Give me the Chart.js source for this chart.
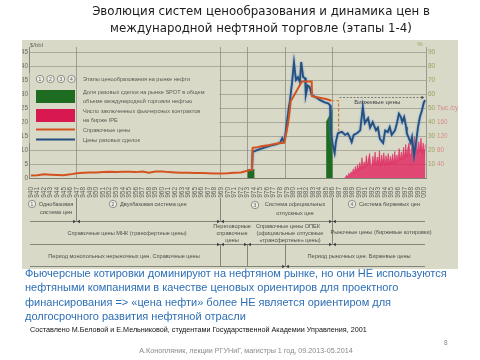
<!DOCTYPE html>
<html lang="ru">
<head>
<meta charset="utf-8">
<title>Эволюция систем ценообразования</title>
<script src="https://cdn.jsdelivr.net/npm/chart.js@4.4.1/dist/chart.umd.min.js"></script>
<style>
  html, body { margin: 0; padding: 0; background: #fff; }
  #page { position: relative; width: 480px; height: 360px; overflow: hidden; }
  #chart { position: absolute; left: 0; top: 0; }
  .t { position: absolute; white-space: nowrap; }
  #title { left: 21px; top: 3px; width: 480px; text-align: center; font: 11.8px/17px "DejaVu Sans", sans-serif; color: #1b1b1b; }
  .blue { left: 25px; font: 11px/14px "Liberation Sans", sans-serif; color: #2d6fb6; }
  #credit { left: 30px; top: 326px; font: 7.2px/8px "Liberation Sans", sans-serif; color: #111; }
  #pageno { left: 444px; top: 339px; font: 6.5px/8px "Liberation Sans", sans-serif; color: #888; }
  #footer { left: 0; width: 492px; top: 347px; text-align: center; font: 7.2px/8px "Liberation Sans", sans-serif; color: #8a8a8a; }
</style>
</head>
<body>
<div id="page">
  <canvas id="chart" width="480" height="360"></canvas>
  <div class="t" id="title">Эволюция систем ценообразования и динамика цен в<br>международной нефтяной торговле (этапы 1-4)</div>
  <div class="t blue" style="top:266px">Фьючерсные котировки доминируют на нефтяном рынке, но они НЕ используются</div>
  <div class="t blue" style="top:280px">нефтяными компаниями в качестве ценовых ориентиров для проектного</div>
  <div class="t blue" style="top:295px">финансирования =&gt; «цена нефти» более НЕ является ориентиром для</div>
  <div class="t blue" style="top:309px">долгосрочного развития  нефтяной отрасли</div>
  <div class="t" id="credit">Составлено М.Беловой и Е.Мельниковой, студентами Государственной Академии Управления, 2001</div>
  <div class="t" id="pageno">8</div>
  <div class="t" id="footer">А.Конопляник, лекции РГУНиГ, магистры 1 год, 09.2013-05.2014</div>
</div>
<script>
// Справочные цены, $/bbl
const refYears = [1940,1941,1942,1943,1944,1945,1946,1947,1948,1949,
  1950,1951,1952,1953,1954,1955,1956,1957,1958,1959,
  1960,1961,1962,1963,1964,1965,1966,1967,1968,1969,
  1970,1971,1972,1973,1973.7,1973.8,1974.5,1975.3,1976.2,1977.0,
  1977.8,1978.6,1978.8,1979.0,1979.2,1979.4,1979.6,1980.0,1980.6,1981.3,
  1981.6,1982.8,1982.85,1984.0,1985.0,1985.8];
const refPrices = [0.9,1.0,1.3,1.2,1.1,1.0,1.3,1.7,1.9,2.0,
  2.0,2.1,2.2,2.1,2.2,2.2,2.1,2.3,1.9,2.3,
  2.3,2.1,2.0,1.9,1.9,1.8,1.8,1.7,1.6,1.6,
  1.7,1.9,2.0,2.6,3.0,10.8,11.0,11.4,11.7,12.1,
  12.4,12.6,14.5,17.0,19.5,23.0,27.5,29.0,31.5,34.5,
  34.5,34.5,29.2,28.7,28.2,27.6];
// dashed continuation of the reference prices
const refTailYears = [1985.8, 1986.9, 1986.9];
const refTailPrices = [27.6, 27.6, 16.8];

// Цены разовых сделок, $/bbl
const spotYears = [1973.7,1973.8,1974.3,1975.0,1975.8,1976.5,1977.3,1978.0,1978.3,1978.5,
  1978.7,1979.0,1979.3,1979.5,1979.8,1980.1,1980.4,1980.7,1981.0,1981.2,
  1981.5,1981.8,1981.9,1982.2,1982.5,1982.8,1983.3,1984.1,1984.8,1985.3,
  1985.6,1985.7,1986.0,1986.3,1986.5,1986.8,1987.4,1987.9,1988.3,1988.6,
  1988.9,1989.2,1989.7,1990.2,1990.6,1990.9,1991.4,1991.7,1992.1,1992.6,
  1992.9,1993.2,1993.7,1994.0,1994.4,1994.7,1995.0,1995.5,1995.8,1996.1,
  1996.4,1996.6,1996.9,1997.2,1997.3,1997.6,1997.9,1998.1,1998.4,1998.7,
  1999.0,1999.3,1999.6,1999.9,2000.1];
const spotPrices = [2.6,9.3,9.8,10.4,11.0,11.6,12.0,12.6,14.2,13.2,
  14.0,19.6,25.0,27.8,34.0,41.4,35.0,36.0,34.3,41.4,
  36.0,35.7,29.6,33.0,32.5,29.6,29.0,27.8,27.0,26.7,
  26.0,17.0,12.0,8.9,13.0,16.0,16.5,15.4,16.0,14.6,
  12.8,15.4,16.0,17.0,25.4,19.6,21.4,18.0,20.0,17.0,
  18.0,14.0,12.5,17.0,16.4,18.2,15.4,17.0,19.6,23.0,
  21.8,20.0,21.8,18.2,16.0,14.3,12.5,14.6,7.8,12.5,
  18.0,21.8,24.0,27.0,27.8];

// Доля разовых сделок (SPOT), %
const shareYearsA = [1973.0, 1974.1];
const shareA = [6, 6];
const shareYearsB = [1985.0, 1986.0];
const shareB = [40, 49];

// Фьючерсные контракты IPE, тыс./сут, every two months from 1987.8
const futuresStart = 1987.8;
const futuresStep = 1 / 6;
const futures = [0,
  2,8,3,14,6,18,
  10,26,14,33,18,38,
  22,44,26,58,28,46,
  30,64,34,55,70,36,
  34,62,38,74,36,60,
  40,78,34,66,42,72,
  36,64,40,70,38,62,
  42,68,40,76,44,66,
  46,84,50,74,52,88,
  56,96,60,86,100,64,
  70,112,74,118,78,108,
  68,104,76,114,72,100,
  70,96];

// period boundaries, years
const bounds = [1946.9, 1968.8, 1972.9, 1978.7, 1985.9];

const BG = '#d9d9c8';
const INK = '#4d4d46';
const SMALL = '"Liberation Sans", sans-serif';
const SPOT_INDEX = 2;

const pts = (xs, ys) => xs.map((x, i) => ({ x: x, y: ys[i] }));
const futuresPts = futures.map((v, i) => ({ x: futuresStart + i * futuresStep, y: v }));

function tri(c, x, y, dir) {
  c.beginPath();
  c.moveTo(x, y - 1.7);
  c.lineTo(x + 2.6 * dir, y);
  c.lineTo(x, y + 1.7);
  c.closePath();
  c.fill();
}
function marker(c, x, y) {
  c.fillStyle = '#333';
  tri(c, x - 3.3, y, 1);
  tri(c, x + 3.3, y, -1);
}
function line(c, x1, y1, x2, y2) {
  c.beginPath(); c.moveTo(x1, y1); c.lineTo(x2, y2); c.stroke();
}
function badge(c, x, y, n) {
  c.beginPath();
  c.arc(x, y, 3.7, 0, Math.PI * 2);
  c.fillStyle = '#eeeee6'; c.fill();
  c.strokeStyle = '#6a6a63'; c.lineWidth = 0.7; c.stroke();
  c.fillStyle = '#555';
  c.font = '5px ' + SMALL;
  c.textAlign = 'center';
  c.fillText(n, x, y + 0.4);
}
function text(c, s, x, y, align) {
  c.textAlign = align || 'center';
  c.fillText(s, x, y);
}

const decor = {
  id: 'decor',
  beforeDraw(chart) {
    const c = chart.ctx;
    c.save();
    c.fillStyle = '#fff';
    c.fillRect(0, 0, chart.width, chart.height);
    c.fillStyle = BG;
    c.fillRect(22, 40, 436, 229);
    c.restore();
  },
  beforeDatasetsDraw(chart) {
    const c = chart.ctx;
    const x = chart.scales.x, y = chart.scales.y, a = chart.chartArea;
    c.save();
    // legend panel covers the grid
    const top = y.getPixelForValue(37.6), bot = y.getPixelForValue(12.4);
    c.fillStyle = BG;
    c.fillRect(a.left + 0.5, top, x.getPixelForValue(bounds[1]) - a.left - 1, bot - top);
    // period lines
    c.strokeStyle = '#8e8e86';
    c.lineWidth = 0.8;
    bounds.forEach(b => {
      const px = Math.round(x.getPixelForValue(b)) + 0.5;
      line(c, px, a.top, px, a.bottom);
    });
    c.restore();
  },
  // light blue halo round the spot price line, as in the scan
  beforeDatasetDraw(chart, args) {
    if (args.index !== SPOT_INDEX) return;
    chart.ctx.save();
    chart.ctx.shadowColor = 'rgba(80, 145, 215, 0.9)';
    chart.ctx.shadowBlur = 2;
  },
  afterDatasetDraw(chart, args) {
    if (args.index === SPOT_INDEX) chart.ctx.restore();
  },
  afterDraw(chart) {
    const c = chart.ctx;
    const x = chart.scales.x, y = chart.scales.y;
    const X = b => Math.round(x.getPixelForValue(b)) + 0.5;
    c.save();
    c.textBaseline = 'middle';

    // axis captions
    c.fillStyle = '#66665e';
    c.font = '6px ' + SMALL;
    text(c, '$/bbl', 30, 45, 'left');
    c.fillStyle = '#9ca05e';
    text(c, '%', 420, 44, 'center');

    // legend
    [40, 50.5, 61, 71.5].forEach((bx, i) => badge(c, bx, 79, String(i + 1)));
    c.fillStyle = '#1e6b22';
    c.fillRect(36, 90, 39, 13);
    c.fillStyle = '#d81850';
    c.fillRect(36, 109, 39, 13);
    c.strokeStyle = '#d4521e'; c.lineWidth = 2;
    line(c, 36, 129.5, 75, 129.5);
    c.strokeStyle = '#244e7e';
    line(c, 36, 139.5, 75, 139.5);
    c.fillStyle = '#5a5a52';
    c.font = '5.6px ' + SMALL;
    text(c, 'Этапы ценообразования на рынке нефти', 83, 79, 'left');
    text(c, 'Доля разовых сделок на рынке SPOT в общем', 83, 92, 'left');
    text(c, 'объеме международной торговли нефтью', 83, 101, 'left');
    text(c, 'Число заключенных фьючерсных контрактов', 83, 111, 'left');
    text(c, 'на бирже IPE', 83, 120, 'left');
    text(c, 'Справочные цены', 83, 130, 'left');
    text(c, 'Цены разовых сделок', 83, 140, 'left');

    // exchange prices note
    const yb = Math.round(y.getPixelForValue(29.0)) + 0.5;
    const xa = X(1986.9), xe = X(2000.0);
    c.strokeStyle = '#555'; c.lineWidth = 0.7;
    c.setLineDash([2, 1.5]);
    line(c, xa, yb, xe - 2, yb);
    c.setLineDash([]);
    c.fillStyle = '#444';
    tri(c, xe - 3, yb, 1);
    c.font = '6.2px ' + SMALL;
    text(c, 'Биржевые цены', x.getPixelForValue(1992.8), yb + 5);

    // stage rows under the axis
    const L = 30, R = 425;
    c.strokeStyle = '#5f5f58'; c.lineWidth = 0.7;
    line(c, L, 221.5, R, 221.5);
    line(c, L, 244.5, R, 244.5);
    line(c, L, 266.5, R, 266.5);
    [bounds[0], bounds[1], bounds[4]].forEach(b => line(c, X(b), 198, X(b), 221));
    line(c, X(bounds[4]), 221, X(bounds[4]), 244);
    [bounds[1], bounds[2], bounds[3]].forEach(b => line(c, X(b), 244, X(b), 266));
    [bounds[0], bounds[1], bounds[4]].forEach(b => marker(c, X(b), 221.5));
    [bounds[1], bounds[2], bounds[4]].forEach(b => marker(c, X(b), 244.5));
    marker(c, X(bounds[3]), 266.5);

    badge(c, 32, 204, '1');
    badge(c, 113, 204, '2');
    badge(c, 255, 205, '3');
    badge(c, 352, 204, '4');
    c.fillStyle = INK;
    c.font = '5.6px ' + SMALL;
    text(c, 'Однобазовая', 56, 204);
    text(c, 'система цен', 56, 212);
    text(c, 'Двухбазовая система цен', 120, 204, 'left');
    text(c, 'Система официальных', 295, 204);
    text(c, 'отпускных цен', 295, 213);
    text(c, 'Система биржевых цен', 359, 204, 'left');

    text(c, 'Справочные цены МНК (трансфертные цены)', 127, 233);
    text(c, 'Переговорные', 232, 226);
    text(c, 'справочные', 232, 233);
    text(c, 'цены', 232, 240);
    text(c, 'Справочные цены ОПЕК', 288, 226);
    text(c, '(официальные отпускные', 290, 233);
    text(c, '«трансфертные» цены)', 290, 240);
    text(c, 'Рыночные цены (биржевые котировки)', 381, 232);

    text(c, 'Период монопольных нерыночных цен. Справочные цены', 124, 256);
    text(c, 'Период рыночных цен. Биржевые цены', 359, 256);
    c.restore();
  }
};

new Chart(document.getElementById('chart'), {
  type: 'line',
  data: {
    datasets: [
      { label: 'Справочные цены', data: pts(refYears, refPrices), yAxisID: 'y',
        borderColor: '#d4521e', borderWidth: 2, pointRadius: 0, tension: 0 },
      { label: 'Справочные цены (пунктир)', data: pts(refTailYears, refTailPrices), yAxisID: 'y',
        borderColor: '#cf7b2c', borderWidth: 1.2, borderDash: [3, 2], pointRadius: 0 },
      { label: 'Цены разовых сделок', data: pts(spotYears, spotPrices), yAxisID: 'y',
        borderColor: '#284f7c', borderWidth: 1.8, pointRadius: 0, tension: 0 },
      { label: 'Доля разовых сделок', data: pts(shareYearsA, shareA), yAxisID: 'y2',
        borderColor: '#1e6b22', backgroundColor: '#1e6b22', borderWidth: 0.5, fill: 'origin', pointRadius: 0 },
      { label: 'Доля разовых сделок 2', data: pts(shareYearsB, shareB), yAxisID: 'y2',
        borderColor: '#1e6b22', backgroundColor: '#1e6b22', borderWidth: 0.5, fill: 'origin', pointRadius: 0 },
      { label: 'Фьючерсные контракты IPE', data: futuresPts, yAxisID: 'y3',
        borderColor: '#e0245e', backgroundColor: 'rgba(226, 30, 90, 0.78)', borderWidth: 0.6, fill: 'origin', pointRadius: 0 }
    ]
  },
  options: {
    responsive: false,
    animation: false,
    devicePixelRatio: 1,
    layout: { padding: { left: 22, top: 47, right: 22, bottom: 162 } },
    plugins: { legend: { display: false }, tooltip: { enabled: false } },
    scales: {
      x: {
        type: 'linear', min: 1939.7, max: 2000.23,
        grid: { display: false },
        border: { display: true, color: '#77776f', width: 0.8 },
        ticks: { stepSize: 1, includeBounds: false, autoSkip: false, minRotation: 90, maxRotation: 90,
          padding: 1, color: '#5f5f58', font: { family: 'Liberation Sans', size: 6.5 },
          callback: v => String(v) },
        afterFit: s => { s.height = 20; }
      },
      y: {
        position: 'left', min: 0, max: 46.8,
        grid: { color: '#93938a', lineWidth: 0.7, drawTicks: false },
        border: { display: true, color: '#6f6f68', width: 0.8 },
        ticks: { stepSize: 5, includeBounds: false, padding: 1, color: '#6a6a62',
          font: { family: 'Liberation Sans', size: 6.5 } },
        afterFit: s => { s.width = 7; }
      },
      y2: {
        position: 'right', min: 0, max: 93.6,
        grid: { display: false, drawTicks: false },
        border: { display: true, color: '#8a8a82', width: 0.8 },
        ticks: { stepSize: 10, includeBounds: false, padding: 2, color: '#9ca05e',
          font: { family: 'Liberation Sans', size: 6.5 },
          callback: v => (v === 0 ? '' : v) },
        afterFit: s => { s.width = 10; }
      },
      y3: {
        position: 'right', min: 0, max: 374.4,
        grid: { display: false, drawTicks: false },
        border: { display: false },
        ticks: { stepSize: 40, includeBounds: false, padding: 1, color: '#d68a8a',
          font: { family: 'Liberation Sans', size: 6.3 },
          callback: v => (v === 0 || v > 200 ? '' : v === 200 ? 'Тыс./сут' : v) },
        afterFit: s => { s.width = 22; }
      }
    }
  },
  plugins: [decor]
});
</script>
</body>
</html>
